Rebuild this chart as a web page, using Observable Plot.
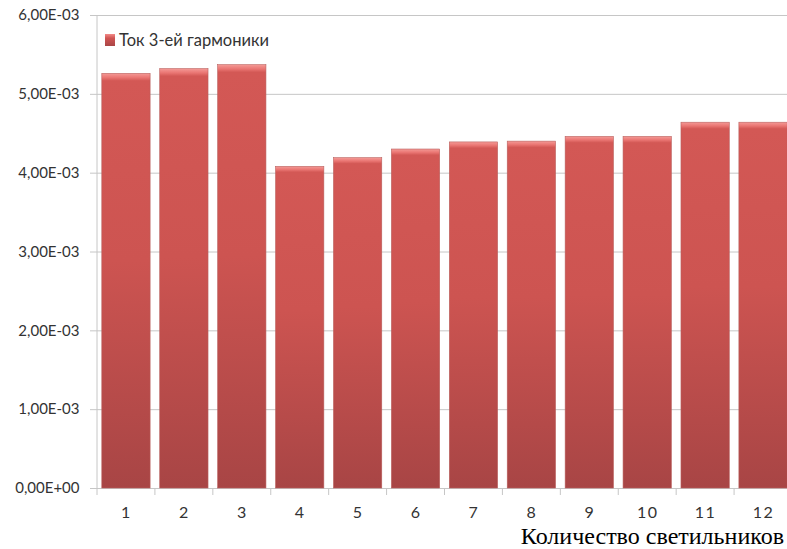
<!DOCTYPE html>
<html>
<head>
<meta charset="utf-8">
<script src="https://cdn.jsdelivr.net/npm/d3@7"></script>
<script src="https://cdn.jsdelivr.net/npm/@observablehq/plot@0.6"></script>
<style>
  html, body { margin: 0; padding: 0; background: #fff; }
  #wrap { position: relative; width: 787px; height: 549px; overflow: hidden; }
  #legend { position: absolute; left: 105px; top: 30px; font-family: Lato, "Open Sans", sans-serif; font-size: 16.5px; color: #333; display: flex; align-items: center; }
  #legend .sw { width: 10px; height: 12px; margin-right: 4px; background: linear-gradient(#f28b88 0%, #d05452 35%, #a94646 100%); }
  .xax text { letter-spacing: 1.5px; }
</style>
</head>
<body>
<div id="wrap"><div id="legend"><span class="sw"></span><span>Ток 3-ей гармоники</span></div></div>
<script>
const categories = ["1","2","3","4","5","6","7","8","9","10","11","12"];
const values = [5.26e-3, 5.32e-3, 5.37e-3, 4.08e-3, 4.19e-3, 4.30e-3, 4.39e-3, 4.40e-3, 4.46e-3, 4.46e-3, 4.64e-3, 4.64e-3];
const yTicks = [0, 1e-3, 2e-3, 3e-3, 4e-3, 5e-3, 6e-3];
const seriesName = "Ток 3-ей гармоники";
const xTitle = "Количество светильников";

const data = categories.map((c, i) => ({cat: c, value: values[i]}));
const fmt = d => d === 0 ? "0,00E+00" : (d * 1000).toFixed(2).replace(".", ",") + "E-03";

const xRange = [97, 792];
const step = (xRange[1] - xRange[0]) / categories.length;

const chart = Plot.plot({
  width: 787,
  height: 549,
  marginLeft: 97,
  marginRight: 0,
  marginTop: 15,
  marginBottom: 61,
  style: {fontFamily: "Lato, 'Open Sans', sans-serif", fontSize: "15px", color: "#333", background: "#fff"},
  x: {domain: categories, range: xRange, round: false, paddingInner: 0.166, paddingOuter: 0.083, label: null},
  y: {domain: [0, 6e-3], label: null},
  marks: [
    Plot.ruleY(yTicks, {stroke: "#c6c6c6", strokeWidth: 1}),
    Plot.barY(data, {x: "cat", y: "value", fill: "url(#barGrad)", stroke: "#b9605e", strokeWidth: 0.6}),
    Plot.axisY({ticks: yTicks, tickFormat: fmt, tickSize: 7, tickPadding: 11, stroke: "#c6c6c6", fill: "#333", label: null, fontSize: 15}),
    Plot.axisX({tickSize: 0, tickPadding: 18, fill: "#333", label: null, fontSize: 16, className: "xax"})
  ]
});

const wrap = document.getElementById("wrap");
wrap.insertBefore(chart, wrap.firstChild);
const svg = d3.select(chart);
const defs = svg.insert("defs", ":first-child");
const g = defs.append("linearGradient").attr("id", "barGrad").attr("x1", 0).attr("y1", 0).attr("x2", 0).attr("y2", 1);
g.append("stop").attr("offset", "0%").attr("stop-color", "#f49a96");
g.append("stop").attr("offset", "1.0%").attr("stop-color", "#ea7673");
g.append("stop").attr("offset", "1.8%").attr("stop-color", "#d35855");
g.append("stop").attr("offset", "45%").attr("stop-color", "#cd5451");
g.append("stop").attr("offset", "100%").attr("stop-color", "#a84545");

const y0 = 488;
svg.append("line").attr("x1", 97).attr("x2", 97).attr("y1", 15).attr("y2", y0).attr("stroke", "#c6c6c6");
svg.append("text").attr("x", 784).attr("y", 544).attr("text-anchor", "end")
  .attr("font-family", "'Liberation Serif', 'DejaVu Serif', serif").attr("font-size", 24).attr("fill", "#000").text(xTitle);
categories.forEach((c, i) => {
  const x = xRange[0] + i * step;
  svg.append("line").attr("x1", x).attr("x2", x).attr("y1", y0).attr("y2", y0 + 7).attr("stroke", "#c6c6c6");
});
</script>
</body>
</html>
